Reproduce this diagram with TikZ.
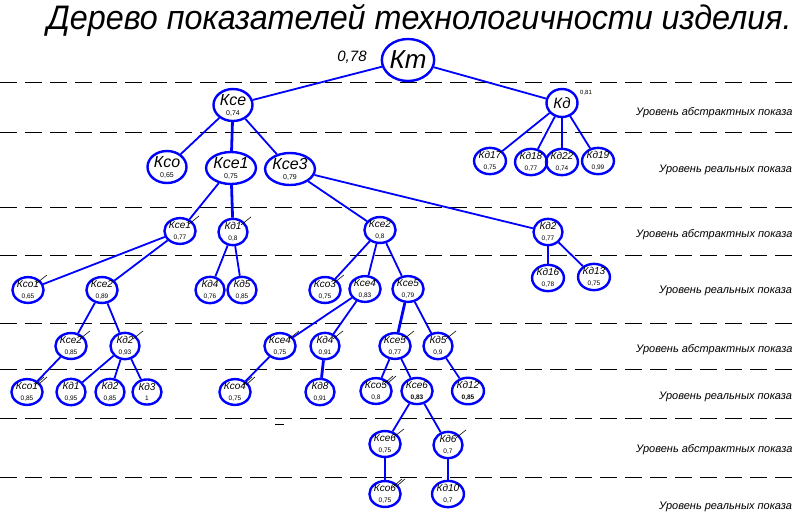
\documentclass[tikz,border=0pt]{standalone}
\usepackage{fontspec}
\setmainfont{Liberation Sans}
\usetikzlibrary{shapes.geometric,positioning}

\newcommand{\kbig}[2]{{\fontsize{16}{16}\selectfont\itshape #1}\\[-2pt]{\fontsize{7}{7}\selectfont #2}}
\newcommand{\ksmall}[2]{{\fontsize{10}{10}\selectfont\itshape #1}\\[-1.5pt]{\fontsize{6.5}{6.5}\selectfont #2}}

\begin{document}
\begin{tikzpicture}[x=1pt, y=-1pt,
    every node/.style={inner sep=0pt},
    kn/.style={ellipse, draw=blue, line width=2.4pt, align=center},
    knroot/.style={kn, minimum width=52pt, minimum height=42pt, font=\fontsize{26}{26}\selectfont\itshape},
    knmid/.style={kn, minimum width=31pt, minimum height=28pt, font=\fontsize{15}{15}\selectfont\itshape},
    knbig/.style={kn, minimum width=39pt, minimum height=32pt},
    knsmall/.style={kn, minimum width=29pt, minimum height=25pt},
    tickmark/.style={append after command={(\tikzlastnode.north east) ++(-3pt,-3pt) edge[black, line width=0.6pt] ++(10pt,8pt)}},
    tickmarks/.style={append after command={(\tikzlastnode.north east) ++(-4pt,-3pt) edge[black, line width=0.6pt] ++(9pt,8pt) ++(3pt,0pt) edge[black, line width=0.6pt] ++(9pt,8pt)}},
    levelline/.style={black, line width=1pt, dash pattern=on 17pt off 8pt},
    levellabel/.style={anchor=west, font=\fontsize{11}{11}\selectfont\itshape},
    con/.style={draw=blue, line width=1.8pt},
    vcon/.style={draw=blue, line width=2.8pt}]

    \clip (0,0) rectangle (797,531);

    % title
    \node[anchor=base west, font=\fontsize{34}{34}\selectfont\itshape] (title) at (47,29) {\scalebox{0.95}[1]{Дерево показателей технологичности изделия.}};

    % levels
    \draw[levelline] (0,82) -- (797,82);
    \draw[levelline] (0,132) -- (797,132);
    \draw[levelline] (0,207) -- (797,207);
    \draw[levelline] (0,255) -- (797,255);
    \draw[levelline] (0,323) -- (797,323);
    \draw[levelline] (0,369) -- (797,369);
    \draw[levelline] (0,418) -- (797,418);
    \draw[levelline] (0,477) -- (797,477);

    \node[levellabel] (lab1) at (636,113) {Уровень абстрактных показа};
    \node[levellabel] (lab2) at (659,170) {Уровень реальных показа};
    \node[levellabel] (lab3) at (636,235) {Уровень абстрактных показа};
    \node[levellabel] (lab4) at (659,291) {Уровень реальных показа};
    \node[levellabel] (lab5) at (636,350) {Уровень абстрактных показа};
    \node[levellabel] (lab6) at (659,397) {Уровень реальных показа};
    \node[levellabel] (lab7) at (636,450) {Уровень абстрактных показа};
    \node[levellabel] (lab8) at (659,507) {Уровень реальных показа};

    % tree
    \node[knroot] (kt) at (408,60) {Кт};
    \node[font=\fontsize{15}{15}\selectfont\itshape] (ktv) at (352,57) {0,78};

    \node[knbig] (kse) at (233,105) {\kbig{Ксе}{0,74}};
    \node[knmid] (kd) at (562,103) {Кд};
    \node[font=\fontsize{6}{6}\selectfont] (kdv) at (586,93) {0,81};

    \node[knbig] (kso) at (167,167) {\kbig{Ксо}{0,65}};
    \node[knbig] (kse1) at (231,168) {\kbig{Ксе1}{0,75}};
    \node[knbig] (kse3) at (290,169) {\kbig{Ксе3}{0,79}};
    \node[knsmall] (kd17) at (490,161) {\ksmall{Кд17}{0,75}};
    \node[knsmall] (kd18) at (531,162) {\ksmall{Кд18}{0,77}};
    \node[knsmall] (kd22) at (562,162) {\ksmall{Кд22}{0,74}};
    \node[knsmall] (kd19) at (598,161) {\ksmall{Кд19}{0,99}};

    \node[knsmall, tickmark] (kse1a) at (180,231) {\ksmall{Ксе1}{0,77}};
    \node[knsmall, tickmark] (kd1a) at (233,232) {\ksmall{Кд1}{0,8}};
    \node[knsmall] (kse2a) at (380,230) {\ksmall{Ксе2}{0,8}};
    \node[knsmall] (kd2a) at (548,232) {\ksmall{Кд2}{0,77}};

    \node[knsmall, tickmark] (kso1a) at (28,290) {\ksmall{Ксо1}{0,65}};
    \node[knsmall] (kse2b) at (102,290) {\ksmall{Ксе2}{0,89}};
    \node[knsmall] (kd4a) at (210,290) {\ksmall{Кд4}{0,76}};
    \node[knsmall] (kd5a) at (242,290) {\ksmall{Кд5}{0,85}};
    \node[knsmall, tickmark] (kso3) at (325,290) {\ksmall{Ксо3}{0,75}};
    \node[knsmall] (kse4a) at (365,289) {\ksmall{Ксе4}{0,83}};
    \node[knsmall] (kse5a) at (408,289) {\ksmall{Ксе5}{0,79}};
    \node[knsmall] (kd16) at (548,278) {\ksmall{Кд16}{0,78}};
    \node[knsmall] (kd13) at (594,277) {\ksmall{Кд13}{0,75}};

    \node[knsmall, tickmark] (kse2c) at (71,346) {\ksmall{Ксе2}{0,85}};
    \node[knsmall, tickmark] (kd2b) at (125,346) {\ksmall{Кд2}{0,93}};
    \node[knsmall, tickmark] (kse4b) at (280,346) {\ksmall{Ксе4}{0,75}};
    \node[knsmall, tickmark] (kd4b) at (325,346) {\ksmall{Кд4}{0,91}};
    \node[knsmall, tickmark] (kse5b) at (395,346) {\ksmall{Ксе5}{0,77}};
    \node[knsmall, tickmark] (kd5b) at (438,346) {\ksmall{Кд5}{0,9}};

    \node[knsmall, tickmarks] (kso1b) at (27,392) {\ksmall{Ксо1}{0,85}};
    \node[knsmall] (kd1b) at (71,392) {\ksmall{Кд1}{0,95}};
    \node[knsmall] (kd2c) at (110,392) {\ksmall{Кд2}{0,85}};
    \node[knsmall] (kd3) at (147,392) {\ksmall{Кд3}{1}};
    \node[knsmall, tickmarks] (kso4) at (235,392) {\ksmall{Ксо4}{0,75}};
    \node[knsmall] (kd8) at (320,392) {\ksmall{Кд8}{0,91}};
    \node[knsmall, tickmarks] (kso5) at (376,391) {\ksmall{Ксо5}{0,8}};
    \node[knsmall] (kse6a) at (417,391) {\ksmall{Ксе6}{\bfseries 0,83}};
    \node[knsmall] (kd12) at (468,391) {\ksmall{Кд12}{\bfseries 0,85}};

    \node[knsmall, tickmark] (kse6b) at (385,444) {\ksmall{Ксе6}{0,75}};
    \node[knsmall, tickmark] (kd6) at (448,445) {\ksmall{Кд6}{0,7}};

    \node[knsmall, tickmarks] (kso6) at (385,494) {\ksmall{Ксо6}{0,75}};
    \node[knsmall] (kd10) at (448,494) {\ksmall{Кд10}{0,7}};

    \draw[black, line width=1pt] (275,424) -- (284,424);

    \path[con]
        (kt) edge (kse)
        (kt) edge (kd)
        (kse) edge (kso)
        (kse) edge (kse3)
        (kd) edge (kd17)
        (kd) edge (kd18)
        (kd) edge (kd19)
        (kse1) edge (kse1a)
        (kse3) edge (kse2a)
        (kse3) edge (kd2a)
        (kse1a) edge (kso1a)
        (kse1a) edge (kse2b)
        (kd1a) edge (kd4a)
        (kd1a) edge (kd5a)
        (kse2a) edge (kso3)
        (kse2a) edge (kse4a)
        (kse2a) edge (kse5a)
        (kd2a) edge (kd13)
        (kse2b) edge (kse2c)
        (kse2b) edge (kd2b)
        (kse4a) edge (kse4b)
        (kse4a) edge (kd4b)
        (kse5a) edge (kd5b)
        (kse2c) edge (kso1b)
        (kd2b) edge (kd1b)
        (kd2b) edge (kd2c)
        (kd2b) edge (kd3)
        (kse4b) edge (kso4)
        (kse5b) edge (kso5)
        (kse5b) edge (kse6a)
        (kd5b) edge (kd12)
        (kse6a) edge (kse6b)
        (kse6a) edge (kd6);

    \path[vcon]
        (kse) edge (kse1)
        (kd) edge (kd22)
        (kse1) edge (kd1a)
        (kd2a) edge (kd16)
        (kse5a) edge (kse5b)
        (kd4b) edge (kd8)
        (kse6b) edge (kso6)
        (kd6) edge (kd10);
\end{tikzpicture}
\end{document}
